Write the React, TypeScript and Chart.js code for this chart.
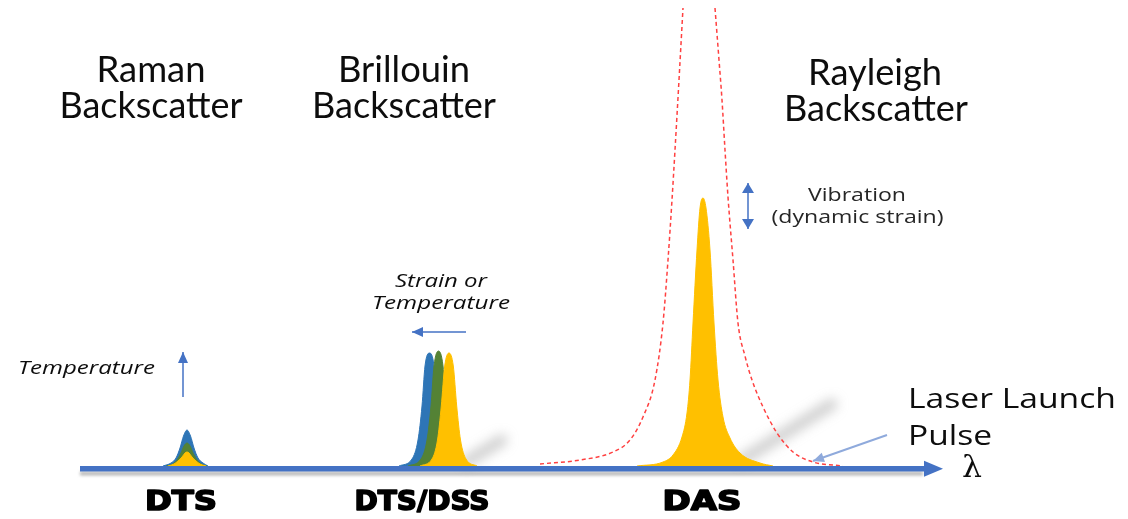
import React, { useEffect, useRef } from 'react';
import { Chart, registerables } from 'chart.js';

Chart.register(...registerables);

// ---- Data: wavelength (λ, arbitrary units) vs. backscatter intensity (arbitrary units) ----
// Raman (DTS) peak – three overlapping traces
const ramanBlueX = [163, 171, 176, 180, 183.5, 187, 190.5, 194, 198, 203, 208];
const ramanBlueY = [0, 3, 8, 18, 30, 36, 30, 18, 8, 3, 0];
const ramanGreenX = [166, 173, 177, 181, 184, 187, 190, 193, 197, 201, 207];
const ramanGreenY = [0, 2, 6, 13, 20, 23, 20, 13, 6, 2, 0];
const ramanYellowX = [168, 174, 178, 182, 185, 187, 189, 192, 196, 200, 206];
const ramanYellowY = [0, 2, 5, 9, 13, 14, 13, 9, 5, 2, 0];

// Brillouin (DTS/DSS) peaks – shifted by strain or temperature
const brillouinBlueX = [399, 412, 418, 422, 425, 429.5, 434, 437, 441, 447, 458];
const brillouinBlueY = [0, 7, 26, 60, 100, 113, 100, 60, 26, 7, 0];
const brillouinGreenX = [408, 421, 427, 431, 434, 438.5, 443, 446, 450, 456, 467];
const brillouinGreenY = [0, 7, 26, 60, 100, 115, 100, 60, 26, 7, 0];
const brillouinYellowX = [420, 432, 437.5, 441.3, 444.7, 449, 453.3, 456.7, 460.5, 466, 477];
const brillouinYellowY = [0, 7, 26, 60, 100, 113, 100, 60, 26, 7, 0];

// Rayleigh (DAS) peak
const rayleighX = [637, 663, 673, 682, 687, 690, 693, 697, 700, 703, 706, 710, 714, 718, 723, 730, 740, 760, 773];
const rayleighY = [0, 4, 11, 29, 53, 86, 143, 216, 258, 268, 258, 216, 143, 86, 49, 28, 13, 3, 0];

// Laser launch pulse (red dotted envelope, runs off the top)
const pulseLeftX = [540, 580, 613, 630, 643, 655, 663, 668, 672, 675, 679, 683];
const pulseLeftY = [2, 6, 14, 26, 49, 86, 143, 206, 266, 316, 386, 458];
const pulseRightX = [715, 719, 722, 725, 728, 733, 738, 745, 752, 763, 777, 793, 813, 843];
const pulseRightY = [458, 406, 366, 316, 269, 206, 143, 110, 86, 59, 33, 14, 4, 0];

// Axis (λ) extent
const axisStart = 80;
const axisEnd = 943;

const BLUE = '#2E75B6';
const GREEN = '#548235';
const YELLOW = '#FFC000';
const AXIS_BLUE = '#4472C4';

const zip = (xs: number[], ys: number[]) => xs.map((x, i) => ({ x, y: ys[i] }));

type Note = {
  text: string; x: number; y: number; size: number; family: string;
  weight?: string; style?: string; width: number; align: 'center' | 'left'; color: string; heavy?: number;
};

const HEAD = 'Lato, "Open Sans", sans-serif';
const BODY = '"Open Sans", "Noto Sans", sans-serif';
const BOLD = '"DejaVu Sans", Verdana, sans-serif';

const notes: Note[] = [
  { text: 'Raman', x: 151, y: 384, size: 36, family: HEAD, width: 109, align: 'center', color: '#0d0d0d' },
  { text: 'Backscatter', x: 151, y: 348, size: 36, family: HEAD, width: 183, align: 'center', color: '#0d0d0d' },
  { text: 'Brillouin', x: 404, y: 384, size: 36, family: HEAD, width: 132, align: 'center', color: '#0d0d0d' },
  { text: 'Backscatter', x: 404, y: 348, size: 36, family: HEAD, width: 184, align: 'center', color: '#0d0d0d' },
  { text: 'Rayleigh', x: 875, y: 381, size: 36, family: HEAD, width: 134, align: 'center', color: '#0d0d0d' },
  { text: 'Backscatter', x: 876, y: 345, size: 36, family: HEAD, width: 184, align: 'center', color: '#0d0d0d' },
  { text: 'Vibration', x: 857, y: 265, size: 19, family: BODY, width: 98, align: 'center', color: '#262626' },
  { text: '(dynamic strain)', x: 857.5, y: 243, size: 19, family: BODY, width: 172, align: 'center', color: '#262626' },
  { text: 'Strain or', x: 441, y: 179, size: 18, family: BODY, style: 'italic', width: 92, align: 'center', color: '#0d0d0d' },
  { text: 'Temperature', x: 441, y: 157, size: 18, family: BODY, style: 'italic', width: 138, align: 'center', color: '#0d0d0d' },
  { text: 'Temperature', x: 86.5, y: 92, size: 18, family: BODY, style: 'italic', width: 137, align: 'center', color: '#0d0d0d' },
  { text: 'Laser Launch', x: 908, y: 58, size: 28, family: BODY, width: 208, align: 'left', color: '#0d0d0d' },
  { text: 'Pulse', x: 908, y: 21, size: 28, family: BODY, width: 84, align: 'left', color: '#0d0d0d' },
  { text: 'λ', x: 972, y: -11, size: 30, family: '"DejaVu Serif", "Liberation Serif", serif', width: 20, align: 'center', color: '#0d0d0d' },
  { text: 'DTS', x: 181, y: -44, size: 27, family: BOLD, weight: 'bold', width: 72, align: 'center', color: '#000', heavy: 1.6 },
  { text: 'DTS/DSS', x: 422, y: -44, size: 27, family: BOLD, weight: 'bold', width: 135, align: 'center', color: '#000', heavy: 1.6 },
  { text: 'DAS', x: 702, y: -44, size: 27, family: BOLD, weight: 'bold', width: 79, align: 'center', color: '#000', heavy: 1.6 },
];

type Arrow = { x1: number; y1: number; x2: number; y2: number; color: string; width: number; head: number; half: number; both?: boolean };

const arrows: Arrow[] = [
  { x1: 183, y1: 69, x2: 183, y2: 114, color: AXIS_BLUE, width: 1.5, head: 11, half: 5 },
  { x1: 466, y1: 134, x2: 412, y2: 134, color: AXIS_BLUE, width: 1.5, head: 11, half: 5 },
  { x1: 748, y1: 237, x2: 748, y2: 283, color: AXIS_BLUE, width: 1.5, head: 10, half: 6, both: true },
  { x1: 887, y1: 31, x2: 813, y2: 5, color: '#8FAADC', width: 2, head: 11, half: 5 },
];

const shadows = [
  { x1: 466, y1: 4, x2: 502, y2: 26 },
  { x1: 742, y1: 6, x2: 832, y2: 62 },
];

function drawHead(ctx: CanvasRenderingContext2D, fx: number, fy: number, tx: number, ty: number, head: number, half: number) {
  const a = Math.atan2(ty - fy, tx - fx);
  const bx = tx - Math.cos(a) * head;
  const by = ty - Math.sin(a) * head;
  ctx.beginPath();
  ctx.moveTo(tx, ty);
  ctx.lineTo(bx + Math.sin(a) * half, by - Math.cos(a) * half);
  ctx.lineTo(bx - Math.sin(a) * half, by + Math.cos(a) * half);
  ctx.closePath();
  ctx.fill();
}

const diagramPlugin = {
  id: 'diagram',
  beforeDatasetsDraw(chart: any) {
    const { ctx, scales } = chart;
    const X = (v: number) => scales.x.getPixelForValue(v);
    const Y = (v: number) => scales.y.getPixelForValue(v);
    ctx.save();
    ctx.filter = 'blur(6px)';
    ctx.strokeStyle = 'rgba(130,130,130,0.4)';
    ctx.lineWidth = 11;
    ctx.lineCap = 'round';
    shadows.forEach((s) => {
      ctx.beginPath();
      ctx.moveTo(X(s.x1), Y(s.y1));
      ctx.lineTo(X(s.x2), Y(s.y2));
      ctx.stroke();
    });
    ctx.restore();
  },
  afterDatasetsDraw(chart: any) {
    const { ctx, scales } = chart;
    const X = (v: number) => scales.x.getPixelForValue(v);
    const Y = (v: number) => scales.y.getPixelForValue(v);
    const base = Y(0);

    // axis shadow
    ctx.save();
    ctx.filter = 'blur(1.5px)';
    ctx.strokeStyle = 'rgba(140,140,140,0.6)';
    ctx.lineWidth = 4;
    ctx.beginPath();
    ctx.moveTo(X(axisStart), base + 7.5);
    ctx.lineTo(X(axisEnd - 20), base + 7.5);
    ctx.stroke();
    ctx.restore();

    // λ axis with arrow head
    ctx.save();
    ctx.strokeStyle = AXIS_BLUE;
    ctx.fillStyle = AXIS_BLUE;
    ctx.lineWidth = 5.5;
    ctx.beginPath();
    ctx.moveTo(X(axisStart), base + 2.8);
    ctx.lineTo(X(axisEnd) - 15, base + 2.8);
    ctx.stroke();
    drawHead(ctx, X(axisStart), base + 2.8, X(axisEnd), base + 2.8, 19, 8);
    ctx.restore();

    // annotation arrows
    arrows.forEach((a) => {
      ctx.save();
      ctx.strokeStyle = a.color;
      ctx.fillStyle = a.color;
      ctx.lineWidth = a.width;
      const x1 = X(a.x1), y1 = Y(a.y1), x2 = X(a.x2), y2 = Y(a.y2);
      ctx.beginPath();
      ctx.moveTo(x1, y1);
      ctx.lineTo(x2, y2);
      ctx.stroke();
      drawHead(ctx, x1, y1, x2, y2, a.head, a.half);
      if (a.both) drawHead(ctx, x2, y2, x1, y1, a.head, a.half);
      ctx.restore();
    });

    // texts
    notes.forEach((n) => {
      ctx.save();
      ctx.font = `${n.style || 'normal'} ${n.weight || 'normal'} ${n.size}px ${n.family}`;
      const w = ctx.measureText(n.text).width;
      const sx = n.width / w;
      ctx.translate(X(n.x), Y(n.y));
      ctx.scale(sx, 1);
      ctx.textAlign = n.align;
      ctx.textBaseline = 'alphabetic';
      ctx.fillStyle = n.color;
      ctx.fillText(n.text, 0, 0);
      if (n.heavy) {
        ctx.strokeStyle = n.color;
        ctx.lineWidth = n.heavy;
        ctx.lineJoin = 'round';
        ctx.strokeText(n.text, 0, 0);
      }
      ctx.restore();
    });
  },
};

function peak(xs: number[], ys: number[], color: string, order: number) {
  return {
    data: zip(xs, ys),
    borderColor: color,
    backgroundColor: color,
    borderWidth: 1,
    fill: 'origin',
    pointRadius: 0,
    cubicInterpolationMode: 'monotone',
    order,
  };
}

export default function App() {
  const ref = useRef<HTMLCanvasElement | null>(null);
  useEffect(() => {
    if (!ref.current) return;
    const pulse = [...zip(pulseLeftX, pulseLeftY), { x: 699, y: null as any }, ...zip(pulseRightX, pulseRightY)];
    const chart = new Chart(ref.current, {
      type: 'line',
      data: {
        datasets: [
          {
            data: pulse,
            borderColor: '#FF4040',
            borderWidth: 1.5,
            borderDash: [4, 3],
            fill: false,
            pointRadius: 0,
            spanGaps: false,
            cubicInterpolationMode: 'monotone',
            order: 0,
          } as any,
          peak(ramanYellowX, ramanYellowY, YELLOW, 1),
          peak(ramanGreenX, ramanGreenY, GREEN, 2),
          peak(ramanBlueX, ramanBlueY, BLUE, 3),
          peak(brillouinYellowX, brillouinYellowY, YELLOW, 1),
          peak(brillouinGreenX, brillouinGreenY, GREEN, 2),
          peak(brillouinBlueX, brillouinBlueY, BLUE, 3),
          peak(rayleighX, rayleighY, YELLOW, 1),
        ] as any,
      },
      options: {
        animation: false,
        responsive: true,
        maintainAspectRatio: false,
        layout: { padding: 0 },
        scales: {
          x: { type: 'linear', min: 0, max: 1128, display: false },
          y: { type: 'linear', min: -53, max: 466, display: false },
        },
        plugins: {
          legend: { display: false },
          tooltip: { enabled: false },
        },
      } as any,
      plugins: [diagramPlugin],
    });
    return () => chart.destroy();
  }, []);
  return (
    <div style={{ position: 'absolute', left: 0, top: 0, width: 1128, height: 519, background: '#fff' }}>
      <canvas ref={ref} />
    </div>
  );
}
